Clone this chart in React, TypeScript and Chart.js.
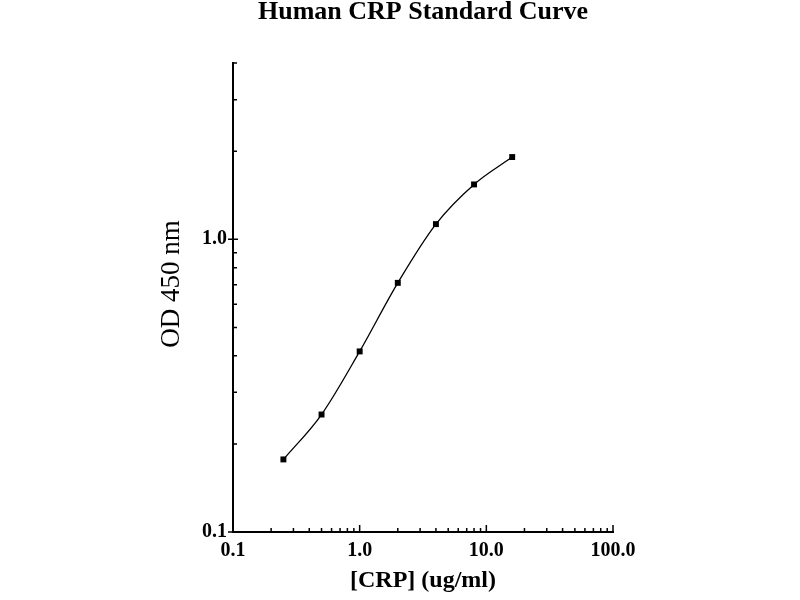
import { useEffect, useRef } from "react";
import { Chart, registerables } from "chart.js";

Chart.register(...registerables);

const chartTitle = "Human CRP Standard Curve";
const xAxisTitle = "[CRP] (ug/ml)";
const yAxisTitle = "OD 450 nm";

const concentrations = [0.25, 0.5, 1, 2, 4, 8, 16];
const odValues = [0.177, 0.252, 0.414, 0.71, 1.127, 1.54, 1.91];

const xTickValues = [0.1, 1, 10, 100];
const xTickLabels = ["0.1", "1.0", "10.0", "100.0"];
const yTickValues = [0.1, 1];
const yTickLabels = ["0.1", "1.0"];

const xMinorTicks = [
  0.2, 0.3, 0.4, 0.5, 0.6, 0.7, 0.8, 0.9,
  2, 3, 4, 5, 6, 7, 8, 9,
  20, 30, 40, 50, 60, 70, 80, 90,
];
const yMinorTicks = [0.2, 0.3, 0.4, 0.5, 0.6, 0.7, 0.8, 0.9, 2, 3, 4];

const SERIF = "'Liberation Serif', 'Times New Roman', serif";

const minorTicksPlugin = {
  id: "minorTicks",
  afterDraw(chart: any) {
    const { ctx, chartArea } = chart;
    const xs = chart.scales.x;
    const ys = chart.scales.y;
    ctx.save();
    ctx.strokeStyle = "#000";
    ctx.lineWidth = 1.5;
    ctx.beginPath();
    for (const v of xMinorTicks) {
      const px = xs.getPixelForValue(v);
      ctx.moveTo(px, chartArea.bottom);
      ctx.lineTo(px, chartArea.bottom - 4);
    }
    for (const v of xTickValues) {
      const px = xs.getPixelForValue(v);
      ctx.moveTo(px, chartArea.bottom);
      ctx.lineTo(px, chartArea.bottom - 7);
    }
    for (const v of yMinorTicks) {
      const py = ys.getPixelForValue(v);
      ctx.moveTo(chartArea.left, py);
      ctx.lineTo(chartArea.left + 4, py);
    }
    for (const v of yTickValues) {
      const py = ys.getPixelForValue(v);
      ctx.moveTo(chartArea.left - 5, py);
      ctx.lineTo(chartArea.left + 5, py);
    }
    ctx.stroke();
    ctx.restore();
  },
};

export default function App() {
  const canvasRef = useRef<HTMLCanvasElement | null>(null);

  useEffect(() => {
    if (!canvasRef.current) return;
    Chart.defaults.color = "#000";
    const chart = new Chart(canvasRef.current, {
      type: "line",
      data: {
        datasets: [
          {
            data: concentrations.map((x, i) => ({ x, y: odValues[i] })),
            borderColor: "#000",
            borderWidth: 1.3,
            backgroundColor: "#000",
            pointStyle: "rect",
            pointRadius: 4.2,
            pointBorderWidth: 0,
            pointBackgroundColor: "#000",
            cubicInterpolationMode: "monotone",
            fill: false,
          },
        ],
      },
      options: {
        responsive: false,
        animation: false,
        events: [],
        layout: { padding: { left: 0, right: 187, top: 0, bottom: 0 } },
        plugins: {
          legend: { display: false },
          tooltip: { enabled: false },
          title: {
            display: true,
            text: chartTitle,
            color: "#000",
            fullSize: false,
            font: { family: SERIF, size: 26, weight: "bold", lineHeight: 0.85 },
            padding: { top: 1, bottom: 40 },
          },
        },
        scales: {
          x: {
            type: "logarithmic",
            min: 0.1,
            max: 100,
            offset: false,
            grid: { display: false, drawTicks: false },
            border: { display: true, color: "#000", width: 2 },
            afterBuildTicks: (scale: any) => {
              scale.ticks = xTickValues.map((v) => ({ value: v }));
            },
            afterFit: (scale: any) => {
              scale.height = 68;
            },
            ticks: {
              autoSkip: false,
              maxRotation: 0,
              padding: 7,
              color: "#000",
              font: { family: SERIF, size: 20, weight: "bold" },
              callback: (_v: any, i: number) => xTickLabels[i],
            },
            title: {
              display: true,
              text: xAxisTitle,
              color: "#000",
              font: { family: SERIF, size: 24, weight: "bold" },
              padding: { top: 0, bottom: 5 },
            },
          },
          y: {
            type: "logarithmic",
            min: 0.1,
            max: 4,
            offset: false,
            grid: { display: false, drawTicks: false },
            border: { display: true, color: "#000", width: 2 },
            afterBuildTicks: (scale: any) => {
              scale.ticks = yTickValues.map((v) => ({ value: v }));
            },
            afterFit: (scale: any) => {
              scale.width = 233;
            },
            ticks: {
              autoSkip: false,
              padding: 6,
              color: "#000",
              font: { family: SERIF, size: 20, weight: "bold" },
              callback: (_v: any, i: number) => yTickLabels[i],
            },
            title: {
              display: true,
              text: "\u2002\u2002" + yAxisTitle,
              color: "#000",
              font: { family: SERIF, size: 27, weight: "normal" },
              padding: { top: 156, bottom: 0 },
            },
          },
        },
      },
      plugins: [minorTicksPlugin],
    } as any);
    return () => chart.destroy();
  }, []);

  return (
    <div style={{ position: "absolute", left: 0, top: 0, width: 800, height: 600, background: "#fff" }}>
      <canvas ref={canvasRef} width={800} height={600} style={{ display: "block" }} />
    </div>
  );
}
